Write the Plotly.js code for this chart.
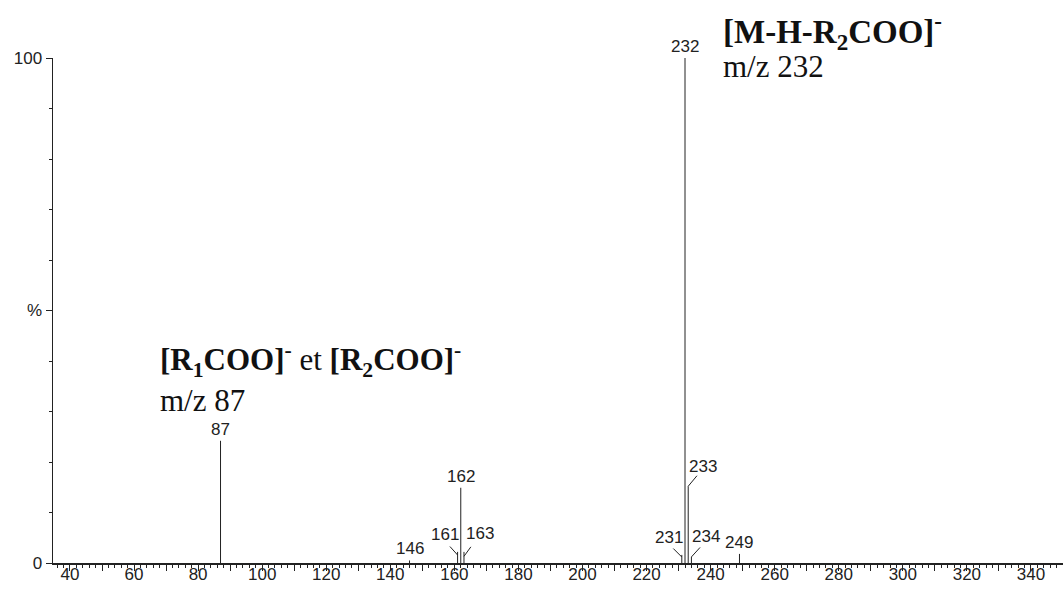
<!DOCTYPE html>
<html><head><meta charset="utf-8">
<script src="https://cdn.plot.ly/plotly-3.0.1.min.js"></script>
<style>html,body{margin:0;padding:0;background:#fff}#chart{width:1063px;height:592px}</style>
</head><body><div id="chart"></div>
<script>
// m/z values of the peaks and their relative intensities (%)
const mz = [87, 146, 161, 162, 163, 231, 232, 233, 234, 249];
const intensity = [24.2, 0.5, 2.2, 14.9, 2.2, 1.6, 100, 15.2, 1.2, 1.8];
const peakLabels = ['87', '146', '161', '162', '163', '231', '232', '233', '234', '249'];
// x-axis labelled ticks (every 20), plus unlabelled ticks every 10
const xTickVals = [40, 60, 80, 100, 120, 140, 160, 180, 200, 220, 240, 260, 280, 300, 320, 340];
const xTickText = ['40', '60', '80', '100', '120', '140', '160', '180', '200', '220', '240', '260', '280', '300', '320', '340'];
const yTickVals = [0, 50, 100];
const yTickText = ['0', '%', '100'];
// ion annotations
const ionTitle1 = '<b>[R<sub>1</sub>COO]<sup>-</sup></b> et <b>[R<sub>2</sub>COO]<sup>-</sup></b>';
const ionMz1 = 'm/z 87';
const ionTitle2 = '<b>[M-H-R<sub>2</sub>COO]<sup>-</sup></b>';
const ionMz2 = 'm/z 232';

// leader-line placement for crowded labels:
// [tip fraction of peak height, line dx px, line dy px, label dx px, label dy px]
const leader = {
  '161': [0.72, -9, -10, -13, 21],
  '163': [0.6, 8, -11, 16, 23],
  '231': [0.74, -10, -10, -13, 20],
  '233': [1.0, 10, -12, 15, 20],
  '234': [1.0, 10, -11, 15, 20]
};

const sx = [], sy = [];
mz.forEach((m, i) => { sx.push(m, m, null); sy.push(0, intensity[i], null); });

const labelFont = {family: 'Liberation Sans, Arial, sans-serif', size: 17, color: '#222'};
const annotations = [];
mz.forEach((m, i) => {
  const lbl = peakLabels[i];
  const L = leader[lbl];
  if (L) {
    const ty = intensity[i] * L[0];
    annotations.push({x: m, y: ty, xref: 'x', yref: 'y', text: '', showarrow: true,
      arrowhead: 0, arrowwidth: 1, arrowcolor: '#222', ax: L[1], ay: L[2], standoff: 0});
    annotations.push({x: m, y: ty, xref: 'x', yref: 'y', text: lbl, showarrow: false,
      xanchor: 'center', yanchor: 'middle', xshift: L[3], yshift: L[4], font: labelFont});
  } else {
    annotations.push({x: m, y: intensity[i], xref: 'x', yref: 'y', text: lbl, showarrow: false,
      yanchor: 'bottom', yshift: 0, font: labelFont});
  }
});

const serif1 = {family: 'Liberation Serif, Times New Roman, serif', size: 31, color: '#111'};
const serif2 = {family: 'Liberation Serif, Times New Roman, serif', size: 33, color: '#111'};
const W = 1010, H = 505;
function px(x) { return (x - 53) / W; }
function py(y) { return (563 - y) / H; }
annotations.push(
  {xref: 'paper', yref: 'paper', x: px(158), y: py(360), xanchor: 'left', yanchor: 'middle', text: ionTitle1, showarrow: false, font: serif1},
  {xref: 'paper', yref: 'paper', x: px(158), y: py(401), xanchor: 'left', yanchor: 'middle', text: ionMz1, showarrow: false, font: serif1},
  {xref: 'paper', yref: 'paper', x: px(721), y: py(32), xanchor: 'left', yanchor: 'middle', text: ionTitle2, showarrow: false, font: serif2},
  {xref: 'paper', yref: 'paper', x: px(721), y: py(66), xanchor: 'left', yanchor: 'middle', text: ionMz2, showarrow: false, font: serif1}
);

const trace = {x: sx, y: sy, type: 'scatter', mode: 'lines', line: {color: '#222', width: 1}, hoverinfo: 'skip', showlegend: false, cliponaxis: false};
const tickTrace = {x: [xTickVals[0]], y: [0], xaxis: 'x2', yaxis: 'y', type: 'scatter', mode: 'markers', marker: {opacity: 0}, hoverinfo: 'skip', showlegend: false};

const xRange = [34.7, 350];
const layout = {
  width: 1063, height: 592,
  margin: {l: 53, r: 0, t: 58, b: 29},
  paper_bgcolor: '#fff', plot_bgcolor: '#fff',
  font: labelFont,
  showlegend: false,
  // labels only, positioned close under the axis line
  xaxis: {range: xRange, anchor: 'free', position: 0.002, showgrid: false, zeroline: false, showline: false,
    ticks: '', tickmode: 'array', tickvals: xTickVals, ticktext: xTickText,
    tickfont: labelFont, fixedrange: true},
  // axis line and ticks
  xaxis2: {range: xRange, overlaying: 'x', anchor: 'y', side: 'bottom', showgrid: false, zeroline: false,
    showline: true, linecolor: '#222', linewidth: 1.5,
    ticks: 'outside', ticklen: 6, tickwidth: 1, tickcolor: '#222', tickmode: 'linear', tick0: 40, dtick: 10,
    minor: {dtick: 2, ticks: 'outside', ticklen: 3, tickwidth: 1, tickcolor: '#222', showgrid: false},
    showticklabels: false, fixedrange: true},
  yaxis: {range: [0, 100], showgrid: false, zeroline: false, showline: true, linecolor: '#222', linewidth: 1.5,
    ticks: 'outside', ticklen: 6, tickwidth: 1, tickcolor: '#222', tickmode: 'array', tickvals: yTickVals, ticktext: yTickText,
    minor: {dtick: 10, ticks: 'outside', ticklen: 3, tickwidth: 1, tickcolor: '#222', showgrid: false},
    tickfont: labelFont, fixedrange: true},
  annotations: annotations
};

Plotly.newPlot('chart', [trace, tickTrace], layout, {staticPlot: true, displayModeBar: false});
</script>
</body></html>
